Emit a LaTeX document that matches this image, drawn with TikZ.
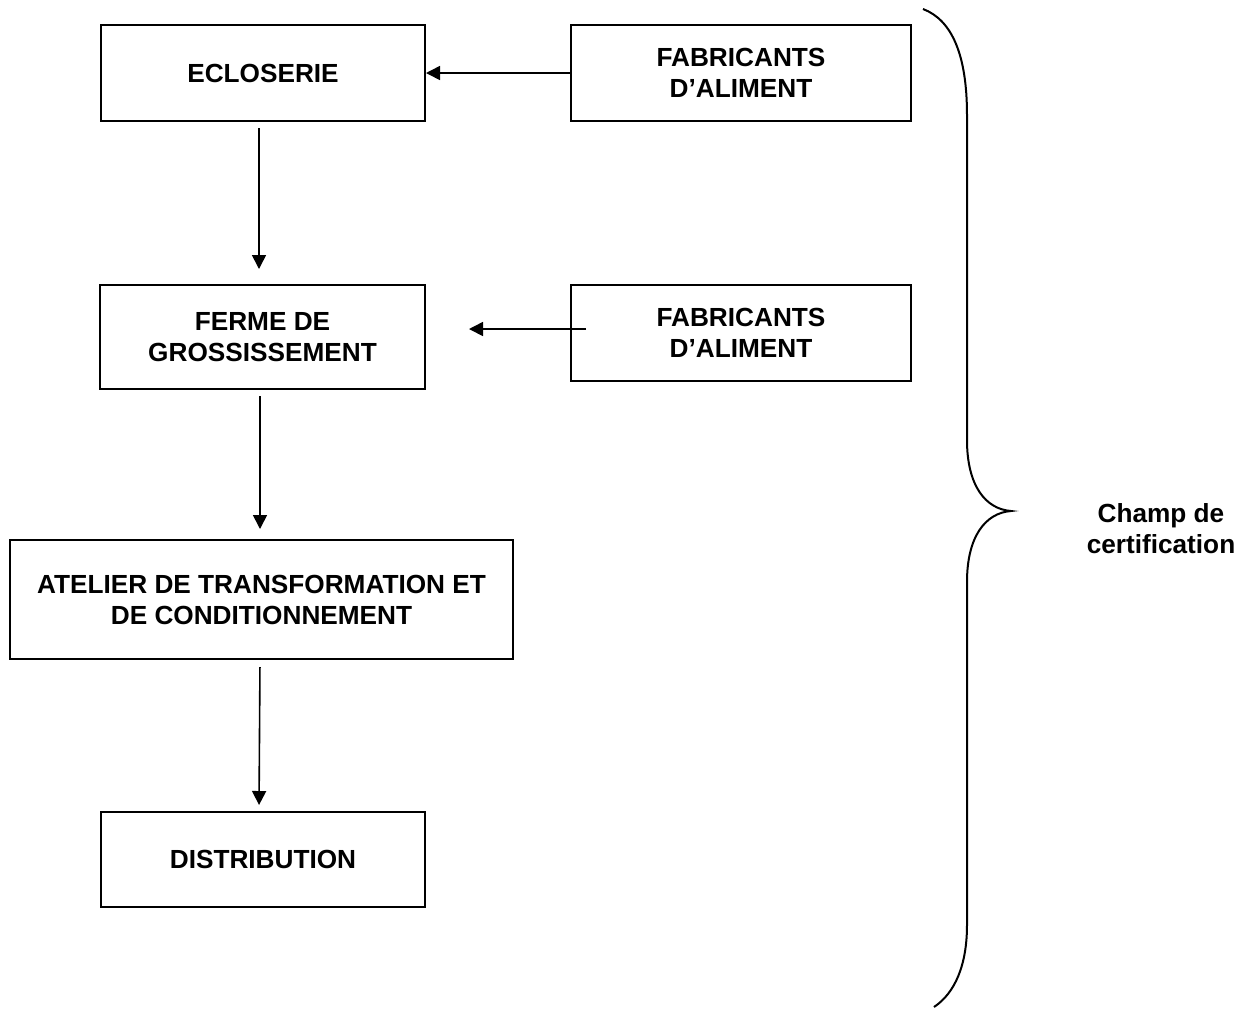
\documentclass[tikz,border=0pt]{standalone}
\usepackage{fontspec}
\setmainfont{Liberation Sans}
\usetikzlibrary{arrows.meta}
\begin{document}
\begin{tikzpicture}[x=0.5pt,y=-0.5pt,
  box/.style={draw,line width=1pt,align=center,inner sep=0pt,
    font=\bfseries\fontsize{13.1}{15.5}\selectfont},
  arr/.style={line width=0.8pt,-{Triangle[length=7pt,width=7pt]}},
  brace/.style={line width=1pt}]
\useasboundingbox (0,0) rectangle (1238,1009);
\node[box,minimum width=162pt,minimum height=48pt] (ecl) at (263,73) {ECLOSERIE};
\node[box,minimum width=170pt,minimum height=48pt] (fab1) at (741,73) {FABRICANTS\\D’ALIMENT};
\node[box,minimum width=162.5pt,minimum height=52pt] (ferme) at (262.5,337) {FERME DE\\GROSSISSEMENT};
\node[box,minimum width=170pt,minimum height=48pt] (fab2) at (741,333) {FABRICANTS\\D’ALIMENT};
\node[box,minimum width=251.5pt,minimum height=59.5pt] (atel) at (261.5,599.5) {ATELIER DE TRANSFORMATION ET\\DE CONDITIONNEMENT};
\node[box,minimum width=162pt,minimum height=47.5pt] (dist) at (263,859.5) {DISTRIBUTION};
\node[align=center,font=\bfseries\fontsize{13.1}{15.5}\selectfont] (champ) at (1161,529) {Champ de\\certification};
\coordinate (a2s) at (586,329);
\coordinate (a2e) at (469,329);
\draw[arr] (fab1.west) -- (ecl.east);
\draw[arr] (a2s) -- (a2e);
\draw[arr,shorten <=3pt,shorten >=7.5pt] ([xshift=-2pt]ecl.south) -- ([xshift=-1.75pt]ferme.north);
\draw[arr,shorten <=3pt,shorten >=5pt] ([xshift=-1.25pt]ferme.south) -- ([xshift=-0.75pt]atel.north);
\draw[arr,shorten <=3.5pt,shorten >=3pt] ([xshift=-0.75pt]atel.south) -- ([xshift=-2pt]dist.north);
\draw[brace] (923,9) .. controls (952,20) and (967,55) .. (967,115) -- (967,440)
  .. controls (967,485) and (985,509) .. (1011,511)
  .. controls (985,513) and (967,537) .. (967,582) -- (967,925)
  .. controls (967,965) and (955,993) .. (934,1007);
\end{tikzpicture}
\end{document}
